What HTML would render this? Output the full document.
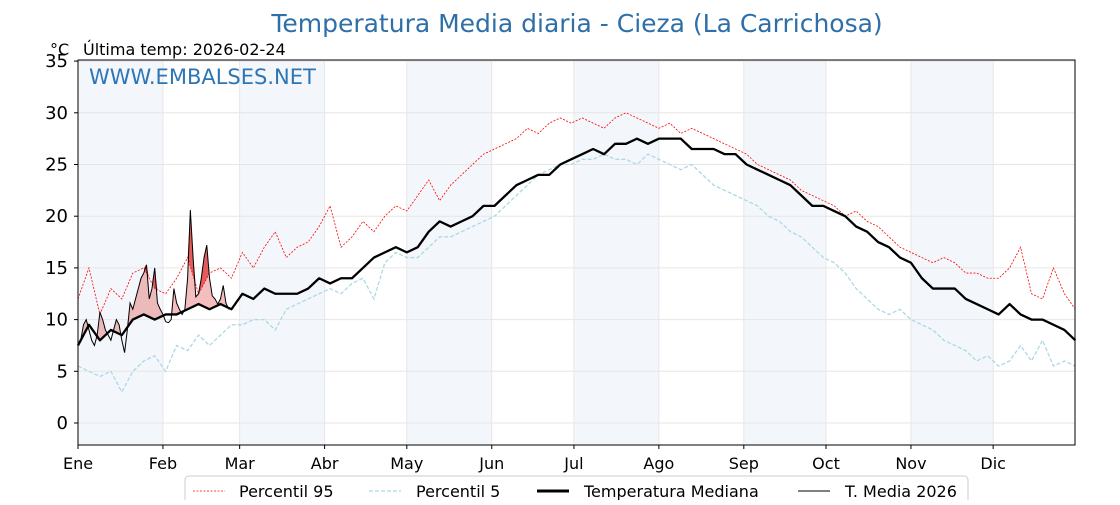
<!DOCTYPE html>
<html><head><meta charset="utf-8"><style>
body{margin:0;background:#fff;}
svg text{font-family:"DejaVu Sans","Liberation Sans",sans-serif;}
</style></head><body>
<svg id="chart" width="1120" height="500" xmlns="http://www.w3.org/2000/svg">
<rect width="1120" height="500" fill="#fff"/>
<g id="bands"></g>
<g id="grid"></g>
<g id="fills"></g>
<g id="lines"></g>
<rect x="78" y="60" width="997" height="385" fill="none" stroke="#000" stroke-width="1"/>
<g id="axes"></g>
<text x="577" y="32" text-anchor="middle" font-size="25" fill="#2f6fa8">Temperatura Media diaria - Cieza (La Carrichosa)</text>
<text x="50" y="55" font-size="16" fill="#000">°C</text>
<text x="83" y="55" font-size="16" fill="#000">Última temp: 2026-02-24</text>
<text x="89" y="84" font-size="21" fill="#2e75b6">WWW.EMBALSES.NET</text>
<g>
<rect x="185" y="476" width="783" height="34" rx="4" fill="#fff" stroke="#ccc"/>
<line x1="193" y1="491" x2="225" y2="491" stroke="red" stroke-width="0.8" stroke-dasharray="2,1.5"/>
<text x="239" y="497" font-size="16">Percentil 95</text>
<line x1="369" y1="491" x2="401" y2="491" stroke="#add8e6" stroke-width="1.2" stroke-dasharray="4,2"/>
<text x="416" y="497" font-size="16">Percentil 5</text>
<line x1="537" y1="491" x2="569" y2="491" stroke="#000" stroke-width="3"/>
<text x="584" y="497" font-size="16">Temperatura Mediana</text>
<line x1="798" y1="491" x2="830" y2="491" stroke="#000" stroke-width="1"/>
<text x="845" y="497" font-size="16">T. Media 2026</text>
</g>
</svg>
<script>
const months=["Ene","Feb","Mar","Abr","May","Jun","Jul","Ago","Sep","Oct","Nov","Dic"];
const monthStart=[0,31,59,90,120,151,181,212,243,273,304,334];
const yTicks=[0,5,10,15,20,25,30,35];
const median=[7.5,9.5,8,9,8.5,10,10.5,10,10.5,10.5,11,11.5,11,11.5,11,12.5,12,13,12.5,12.5,12.5,13,14,13.5,14,14,15,16,16.5,17,16.5,17,18.5,19.5,19,19.5,20,21,21,22,23,23.5,24,24,25,25.5,26,26.5,26,27,27,27.5,27,27.5,27.5,27.5,26.5,26.5,26.5,26,26,25,24.5,24,23.5,23,22,21,21,20.5,20,19,18.5,17.5,17,16,15.5,14,13,13,13,12,11.5,11,10.5,11.5,10.5,10,10,9.5,9,8];
const p95=[12,15,10.5,13,12,14.5,15,13,12.5,14,16,12.5,14.5,15,14,16.5,15,17,18.5,16,17,17.5,19,21,17,18,19.5,18.5,20,21,20.5,22,23.5,21.5,23,24,25,26,26.5,27,27.5,28.5,28,29,29.5,29,29.5,29,28.5,29.5,30,29.5,29,28.5,29,28,28.5,28,27.5,27,26.5,26,25,24.5,24,23.5,22.5,22,21.5,21,20,20.5,19.5,19,18,17,16.5,16,15.5,16,15.5,14.5,14.5,14,14,15,17,12.5,12,15,12.5,11];
const p5=[5.5,5,4.5,5,3,5,6,6.5,5,7.5,7,8.5,7.5,8.5,9.5,9.5,10,10,9,11,11.5,12,12.5,13,12.5,13.5,14,12,15.5,16.5,16,16,17,18,18,18.5,19,19.5,20,21,22,23,24,24.5,25,25,25.5,25.5,26,25.5,25.5,25,26,25.5,25,24.5,25,24,23,22.5,22,21.5,21,20,19.5,18.5,18,17,16,15.5,14.5,13,12,11,10.5,11,10,9.5,9,8,7.5,7,6,6.5,5.5,6,7.5,6,8,5.5,6,5.5];
const t2026=[7.5,8,9.5,10,9,8,7.5,8.5,10.7,10,9,8.5,8,9,10,9.5,8,6.8,9,11.6,11,12,13,14,14.5,15.3,12,13,15,11.6,11,10.5,9.8,9.7,10,13,11.6,11,10.5,11,14,20.6,16,12.2,12.5,14,16,17.2,14,12.3,12,11.5,12,13.3,11.6,11];

const NS="http://www.w3.org/2000/svg";
const X=d=>78+d*2.74;
const Y=v=>423-v*10.34;
function mk(tag,parent,attrs){const e=document.createElementNS(NS,tag);for(const k in attrs)e.setAttribute(k,attrs[k]);document.getElementById(parent).appendChild(e);return e;}
function dayOf(arr,i){return i*364/(arr.length-1);}
function valAt(arr,d){const f=d*(arr.length-1)/364;const i=Math.min(Math.floor(f),arr.length-2);const r=f-i;return arr[i]*(1-r)+arr[i+1]*r;}

for(let m=0;m<12;m+=2){
  const b=mk('rect','bands',{x:X(monthStart[m]),y:60,width:X(monthStart[m+1])-X(monthStart[m]),height:385,fill:'#f3f7fc'});
  
  
}
yTicks.forEach(v=>{
  const g=mk('line','grid',{x1:78,x2:1075,y1:Y(v),y2:Y(v),stroke:'#e6e6e6','stroke-width':1});
  
  
  mk('line','axes',{x1:74,x2:78,y1:Y(v),y2:Y(v),stroke:'#000'});
  const t=mk('text','axes',{x:68,y:Y(v)+6,'text-anchor':'end','font-size':18});
  t.textContent=v;
  
  
});
months.forEach((m,i)=>{
  const x=X(monthStart[i]);
  const g=mk('line','grid',{x1:x,x2:x,y1:60,y2:445,stroke:'#e6e6e6','stroke-width':1});
  
  
  mk('line','axes',{x1:x,x2:x,y1:445,y2:449,stroke:'#000'});
  const t=mk('text','axes',{x:x,y:469,'text-anchor':'middle','font-size':16});
  t.textContent=m;
  
  
});
function fillAbove(base,name,color){
  let up=[],down=[];
  t2026.forEach((v,d)=>{const b=valAt(base,d);up.push(X(d)+','+Y(Math.max(v,b)));down.unshift(X(d)+','+Y(b));});
  const p=mk('polygon','fills',{points:up.concat(down).join(' '),fill:color});
  
  
}
fillAbove(median,'above-median-fill','rgba(230,110,110,0.45)');
fillAbove(p95,'above-p95-fill','rgba(220,40,40,0.65)');
function line(arr,xf,name,attrs){
  const pts=arr.map((v,i)=>xf(arr,i)+','+Y(v)).join(' ');
  const p=mk('polyline','lines',Object.assign({points:pts,fill:'none'},attrs));
  
  
}
const gx=(a,i)=>X(dayOf(a,i));
line(p95,gx,'p95-line',{stroke:'red','stroke-width':0.8,'stroke-dasharray':'2,1.5'});
line(p5,gx,'p5-line',{stroke:'#add8e6','stroke-width':1.3,'stroke-dasharray':'4,2'});
line(median,gx,'median-line',{stroke:'#000','stroke-width':2.3,'stroke-linejoin':'round'});
line(t2026,(a,i)=>X(i),'t2026-line',{stroke:'#000','stroke-width':1});
</script>
</body></html>
